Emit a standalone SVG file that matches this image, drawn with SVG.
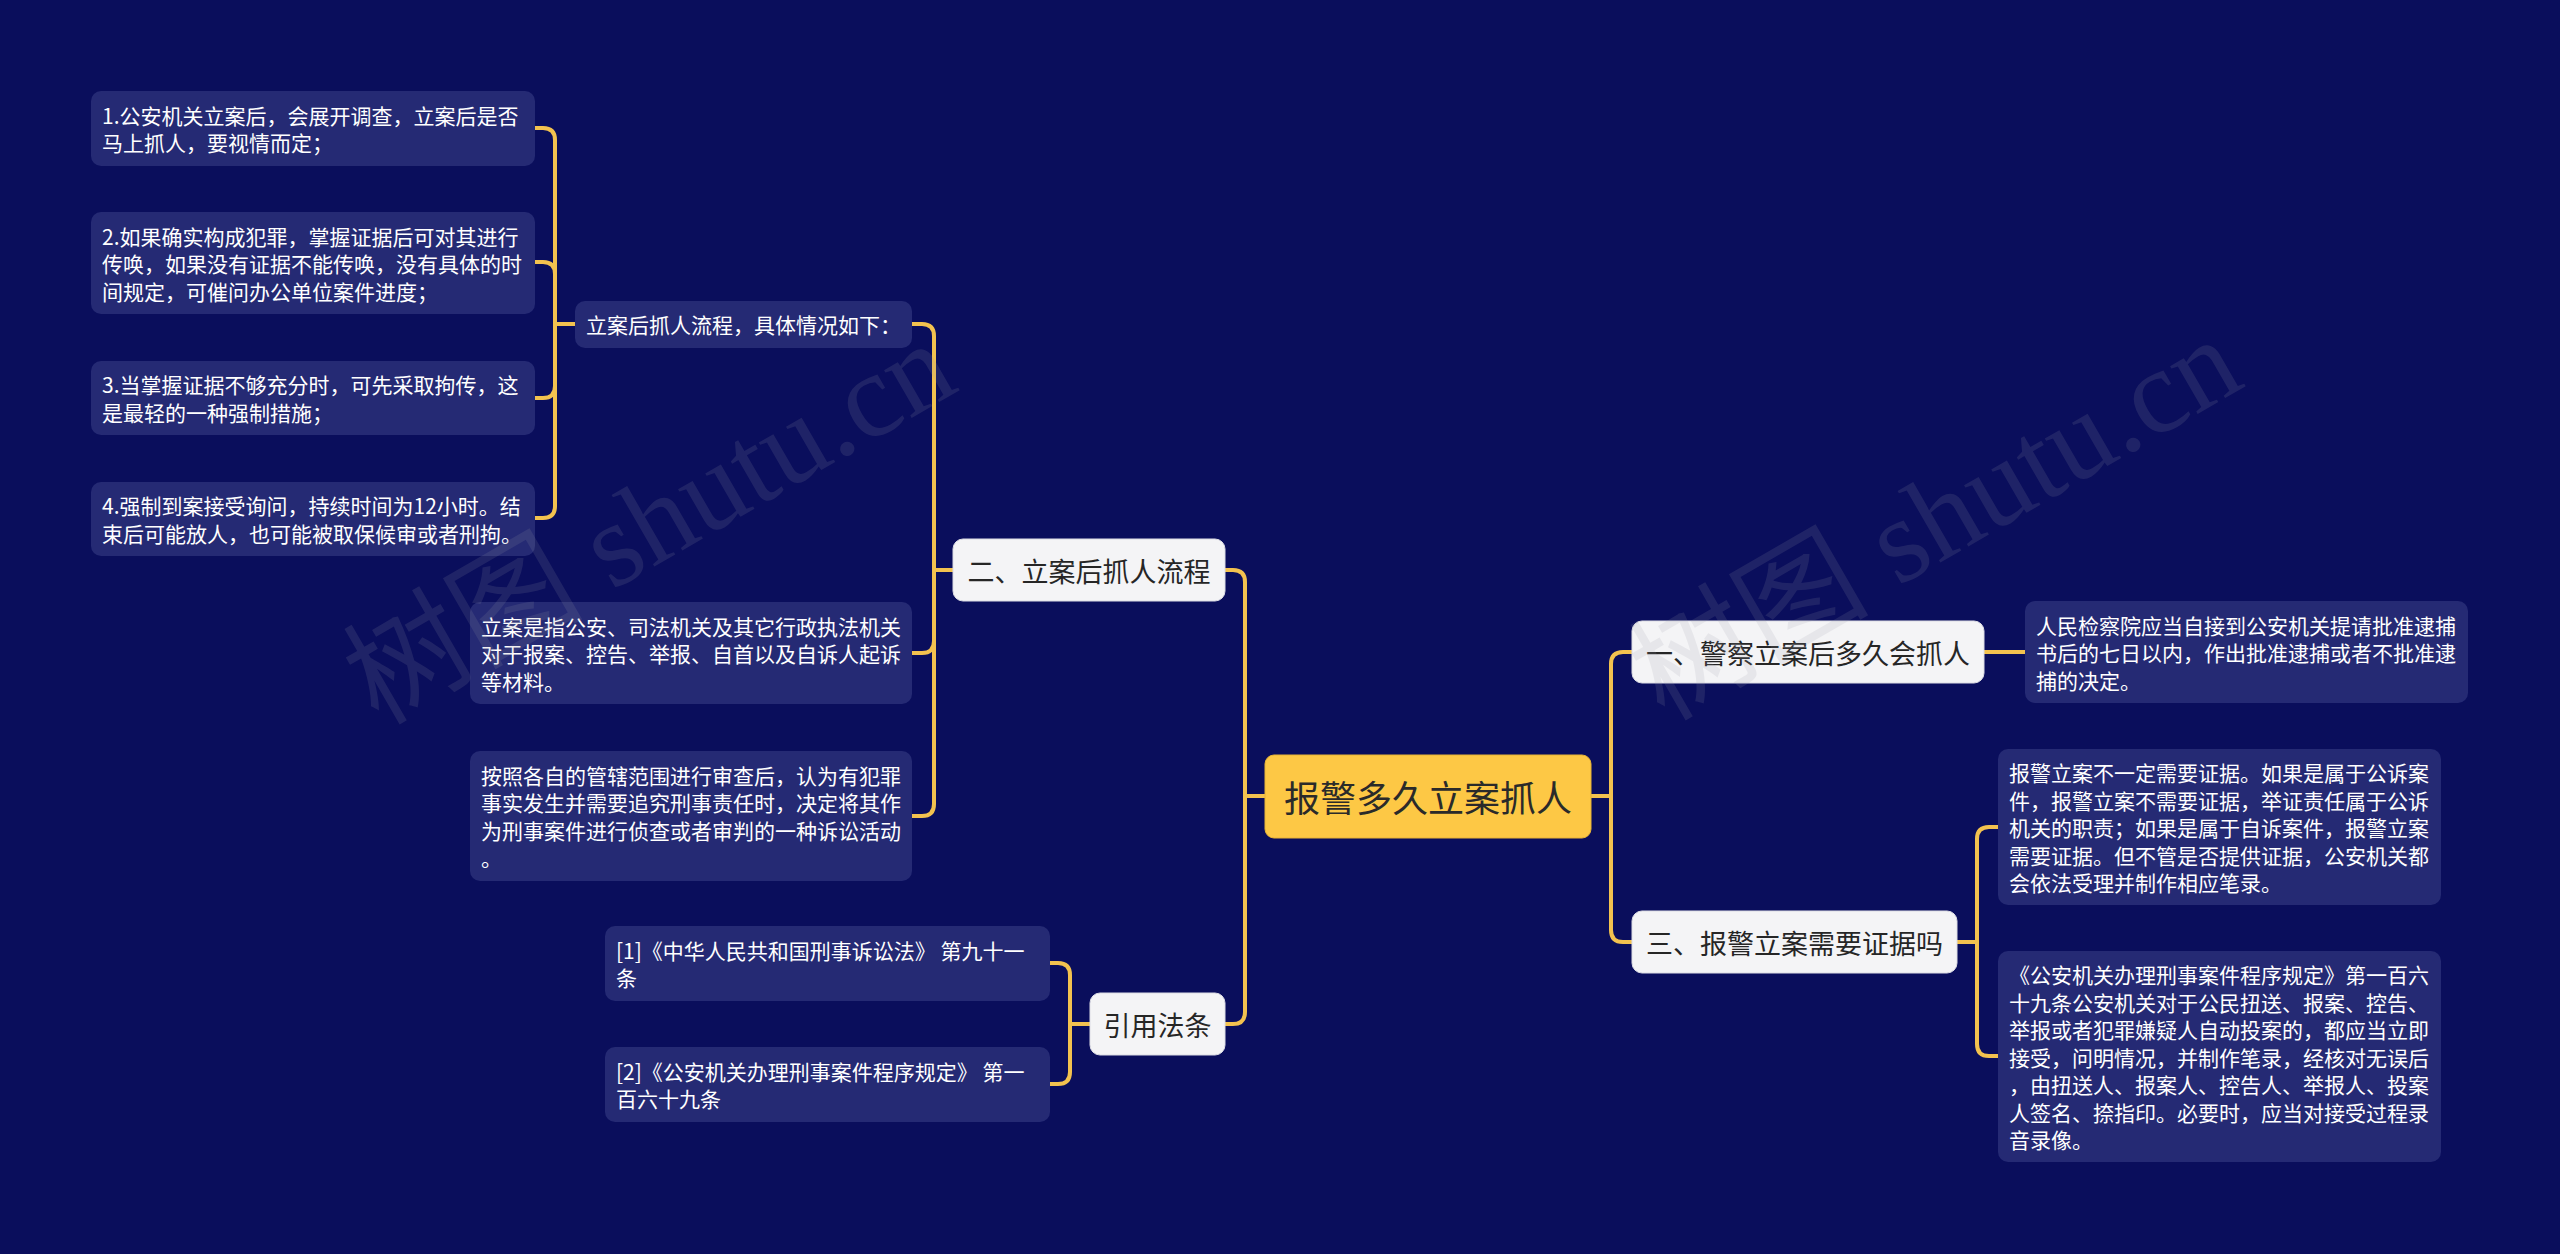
<svg xmlns="http://www.w3.org/2000/svg" width="2560" height="1254" viewBox="0 0 2560 1254">
<style>
.bg{fill:#0a0e5c}
.leaf{fill:#252a74}
.mid{fill:#f4f4f6;stroke:#dcdce4;stroke-width:1}
.root{fill:#fdc845;stroke:#e8b435;stroke-width:1}
.lt{font-family:"Noto Sans CJK SC","Noto Sans",sans-serif;font-size:21px;fill:#ffffff;dominant-baseline:central}
.mt{font-family:"Noto Sans CJK SC","Noto Sans",sans-serif;font-size:27px;fill:#262626;dominant-baseline:central;text-anchor:middle}
.rt{font-family:"Noto Sans CJK SC","Noto Sans",sans-serif;font-size:36px;fill:#2a2a2a;dominant-baseline:central;text-anchor:middle}
.conn path{fill:none;stroke:#f3c24f;stroke-width:4;stroke-linecap:round;stroke-linejoin:round}
.wm{font-family:"Liberation Serif","Noto Sans CJK SC",serif;font-size:120px;fill:#9a9aa8;opacity:0.15}
</style>
<rect class="bg" x="0" y="0" width="2560" height="1254"/>

<g id="connectors" class="conn">
<path d="M575,324 H555 V140 Q555,128 543,128 H535"/>
<path d="M575,324 H555 V274 Q555,262 543,262 H535"/>
<path d="M575,324 H555 V386 Q555,398 543,398 H535"/>
<path d="M575,324 H555 V506 Q555,518 543,518 H535"/>
<path d="M953,570 H934 V336 Q934,324 922,324 H912"/>
<path d="M953,570 H934 V641 Q934,653 922,653 H912"/>
<path d="M953,570 H934 V804 Q934,816 922,816 H912"/>
<path d="M1090,1024 H1070 V975 Q1070,963 1058,963 H1050"/>
<path d="M1090,1024 H1070 V1072 Q1070,1084 1058,1084 H1050"/>
<path d="M1265,796 H1245 V582 Q1245,570 1233,570 H1225"/>
<path d="M1265,796 H1245 V1012 Q1245,1024 1233,1024 H1225"/>
<path d="M1591,796 H1611 V664 Q1611,652 1623,652 H1632"/>
<path d="M1591,796 H1611 V930 Q1611,942 1623,942 H1632"/>
<path d="M1984,652 H2025"/>
<path d="M1957,942 H1977 V839 Q1977,827 1989,827 H1998"/>
<path d="M1957,942 H1977 V1044 Q1977,1056 1989,1056 H1998"/>
</g>

<g id="root">
<rect class="root" x="1265" y="755" width="326" height="83" rx="9"/>
<text class="rt" x="1428" y="796">报警多久立案抓人</text>
</g>

<g id="n-yi">
<rect class="mid" x="1632" y="621" width="352" height="62" rx="10"/>
<text class="mt" x="1808" y="652">一、警察立案后多久会抓人</text>
</g>

<g id="n-er">
<rect class="mid" x="953" y="539" width="272" height="62" rx="10"/>
<text class="mt" x="1089" y="570">二、立案后抓人流程</text>
</g>

<g id="n-san">
<rect class="mid" x="1632" y="911" width="325" height="62" rx="10"/>
<text class="mt" x="1794.5" y="942">三、报警立案需要证据吗</text>
</g>

<g id="n-yinyong">
<rect class="mid" x="1090" y="993" width="135" height="62" rx="10"/>
<text class="mt" x="1157.5" y="1024">引用法条</text>
</g>

<g id="s-liucheng">
<rect class="leaf" x="575" y="301" width="337" height="47" rx="10"/>
<text class="lt" x="586" y="324">立案后抓人流程，具体情况如下：</text>
</g>

<g id="leaf-1">
<rect class="leaf" x="91" y="91" width="444" height="75" rx="10"/>
<text class="lt" x="102" y="114.75">1.公安机关立案后，会展开调查，立案后是否</text>
<text class="lt" x="102" y="142.25">马上抓人，要视情而定；</text>
</g>

<g id="leaf-2">
<rect class="leaf" x="91" y="212" width="444" height="102" rx="10"/>
<text class="lt" x="102" y="235.5">2.如果确实构成犯罪，掌握证据后可对其进行</text>
<text class="lt" x="102" y="263">传唤，如果没有证据不能传唤，没有具体的时</text>
<text class="lt" x="102" y="290.5">间规定，可催问办公单位案件进度；</text>
</g>

<g id="leaf-3">
<rect class="leaf" x="91" y="361" width="444" height="74" rx="10"/>
<text class="lt" x="102" y="384.25">3.当掌握证据不够充分时，可先采取拘传，这</text>
<text class="lt" x="102" y="411.75">是最轻的一种强制措施；</text>
</g>

<g id="leaf-4">
<rect class="leaf" x="91" y="482" width="444" height="74" rx="10"/>
<text class="lt" x="102" y="505.25">4.强制到案接受询问，持续时间为12小时。结</text>
<text class="lt" x="102" y="532.75">束后可能放人，也可能被取保候审或者刑拘。</text>
</g>

<g id="leaf-5">
<rect class="leaf" x="470" y="602" width="442" height="102" rx="10"/>
<text class="lt" x="481" y="625.5">立案是指公安、司法机关及其它行政执法机关</text>
<text class="lt" x="481" y="653">对于报案、控告、举报、自首以及自诉人起诉</text>
<text class="lt" x="481" y="680.5">等材料。</text>
</g>

<g id="leaf-6">
<rect class="leaf" x="470" y="751" width="442" height="130" rx="10"/>
<text class="lt" x="481" y="774.75">按照各自的管辖范围进行审查后，认为有犯罪</text>
<text class="lt" x="481" y="802.25">事实发生并需要追究刑事责任时，决定将其作</text>
<text class="lt" x="481" y="829.75">为刑事案件进行侦查或者审判的一种诉讼活动</text>
<text class="lt" x="481" y="857.25">。</text>
</g>

<g id="leaf-7">
<rect class="leaf" x="605" y="926" width="445" height="75" rx="10"/>
<text class="lt" x="616" y="949.75">[1]《中华人民共和国刑事诉讼法》 第九十一</text>
<text class="lt" x="616" y="977.25">条</text>
</g>

<g id="leaf-8">
<rect class="leaf" x="605" y="1047" width="445" height="75" rx="10"/>
<text class="lt" x="616" y="1070.75">[2]《公安机关办理刑事案件程序规定》 第一</text>
<text class="lt" x="616" y="1098.25">百六十九条</text>
</g>

<g id="leaf-r1">
<rect class="leaf" x="2025" y="601" width="443" height="102" rx="10"/>
<text class="lt" x="2036" y="624.5">人民检察院应当自接到公安机关提请批准逮捕</text>
<text class="lt" x="2036" y="652">书后的七日以内，作出批准逮捕或者不批准逮</text>
<text class="lt" x="2036" y="679.5">捕的决定。</text>
</g>

<g id="leaf-r2">
<rect class="leaf" x="1998" y="749" width="443" height="156" rx="10"/>
<text class="lt" x="2009" y="772">报警立案不一定需要证据。如果是属于公诉案</text>
<text class="lt" x="2009" y="799.5">件，报警立案不需要证据，举证责任属于公诉</text>
<text class="lt" x="2009" y="827">机关的职责；如果是属于自诉案件，报警立案</text>
<text class="lt" x="2009" y="854.5">需要证据。但不管是否提供证据，公安机关都</text>
<text class="lt" x="2009" y="882">会依法受理并制作相应笔录。</text>
</g>

<g id="leaf-r3">
<rect class="leaf" x="1998" y="951" width="443" height="211" rx="10"/>
<text class="lt" x="2009" y="974">《公安机关办理刑事案件程序规定》第一百六</text>
<text class="lt" x="2009" y="1001.5">十九条公安机关对于公民扭送、报案、控告、</text>
<text class="lt" x="2009" y="1029">举报或者犯罪嫌疑人自动投案的，都应当立即</text>
<text class="lt" x="2009" y="1056.5">接受，问明情况，并制作笔录，经核对无误后</text>
<text class="lt" x="2009" y="1084">，由扭送人、报案人、控告人、举报人、投案</text>
<text class="lt" x="2009" y="1111.5">人签名、捺指印。必要时，应当对接受过程录</text>
<text class="lt" x="2009" y="1139">音录像。</text>
</g>

<g id="watermarks">
<text class="wm" transform="translate(378,726) rotate(-30)">树图 shutu.cn</text>
<text class="wm" transform="translate(1664,722) rotate(-30)">树图 shutu.cn</text>
</g>
</svg>
